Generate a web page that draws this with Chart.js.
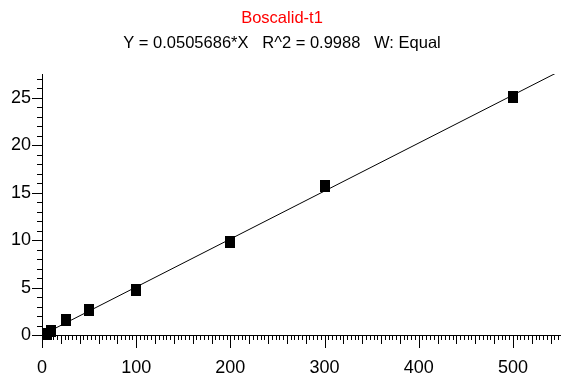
<!DOCTYPE html>
<html>
<head>
<meta charset="utf-8">
<script src="https://cdn.jsdelivr.net/npm/chart.js@4.4.1/dist/chart.umd.min.js"></script>
<style>
  html, body { margin: 0; padding: 0; background: #fff; }
  #wrap { width: 565px; height: 374px; }
</style>
</head>
<body>
<div id="wrap"><canvas id="chart1"></canvas></div>
<script>
// calibration points
const concX = [5, 10, 25, 50, 100, 200, 300, 500];
const respY = [0.15, 0.45, 1.55, 2.6, 4.7, 9.75, 15.65, 25.05];

// fit line end points (Y = 0.0505686*X)
const fitX = [0, 550];
const fitY = [0, 27.81];

const xTickLabels = [0, 100, 200, 300, 400, 500];
const yTickLabels = [0, 5, 10, 15, 20, 25];

const FONT = '"Liberation Sans Narrow", "Liberation Sans", Arial, sans-serif';

// black block marker, a bit taller than wide
const marker = document.createElement('canvas');
marker.width = 10;
marker.height = 12;
const mctx = marker.getContext('2d');
mctx.fillStyle = '#000';
mctx.fillRect(0, 0, 10, 12);

// draw the ruler style ticks (minor / medium / major) along both axes
const rulerTicks = {
    id: 'rulerTicks',
    afterDraw(chart) {
        const ctx = chart.ctx;
        const xs = chart.scales.x;
        const ys = chart.scales.y;
        const axisY = ys.getPixelForValue(0);
        const axisX = xs.getPixelForValue(0);
        ctx.save();
        ctx.strokeStyle = '#000';
        ctx.lineWidth = 1;
        ctx.beginPath();
        for (let v = 0; v <= 550; v += 4) {
            if (v % 20 !== 0) addTick(xs.getPixelForValue(v), 5);
        }
        for (let v = 0; v <= 540; v += 20) {
            addTick(xs.getPixelForValue(v), v % 100 === 0 ? 13 : 9);
        }
        function addTick(px, len) {
            px = Math.round(px) + 0.5;
            ctx.moveTo(px, axisY);
            ctx.lineTo(px, axisY + len);
        }
        for (let v = 0; v <= 27; v += 1) {
            const py = Math.round(ys.getPixelForValue(v)) + 0.5;
            const len = v % 5 === 0 ? 10 : 5;
            ctx.moveTo(axisX, py);
            ctx.lineTo(axisX - len, py);
        }
        ctx.stroke();
        ctx.restore();
    }
};

const ctx = document.getElementById('chart1').getContext('2d');
new Chart(ctx, {
    type: 'scatter',
    data: {
        datasets: [
            {
                label: 'points',
                data: concX.map((x, i) => ({ x: x, y: respY[i] })),
                pointStyle: marker,
                clip: false,
                order: 0
            },
            {
                label: 'fit',
                type: 'line',
                data: fitX.map((x, i) => ({ x: x, y: fitY[i] })),
                borderColor: '#000',
                borderWidth: 1,
                pointRadius: 0,
                fill: false,
                order: 1
            }
        ]
    },
    plugins: [rulerTicks],
    options: {
        responsive: true,
        maintainAspectRatio: false,
        animation: false,
        layout: { padding: { left: 0, right: 1, top: 0, bottom: 0 } },
        scales: {
            x: {
                type: 'linear',
                min: 0,
                max: 550,
                grid: { display: false, drawTicks: false },
                border: { display: true, color: '#000', width: 1 },
                afterFit: s => { s.height = 39; },
                afterBuildTicks: s => { s.ticks = xTickLabels.map(v => ({ value: v })); },
                ticks: {
                    padding: 22,
                    color: '#000',
                    font: { family: FONT, size: 18 },
                    maxRotation: 0
                }
            },
            y: {
                type: 'linear',
                min: 0,
                max: 27.5,
                grid: { display: false, drawTicks: false },
                border: { display: true, color: '#000', width: 1 },
                afterFit: s => { s.width = 42; },
                afterBuildTicks: s => { s.ticks = yTickLabels.map(v => ({ value: v })); },
                ticks: {
                    padding: 11,
                    color: '#000',
                    font: { family: FONT, size: 18 }
                }
            }
        },
        plugins: {
            legend: { display: false },
            tooltip: { enabled: false },
            title: {
                display: true,
                text: 'Boscalid-t1',
                color: '#ff0000',
                font: { family: FONT, size: 16.5, weight: 'normal' },
                padding: { top: 9, bottom: 3 }
            },
            subtitle: {
                display: true,
                text: 'Y = 0.0505686*X   R^2 = 0.9988   W: Equal',
                color: '#000',
                font: { family: FONT, size: 16.5 },
                padding: { top: 2, bottom: 20.4 }
            }
        }
    }
});
</script>
</body>
</html>
